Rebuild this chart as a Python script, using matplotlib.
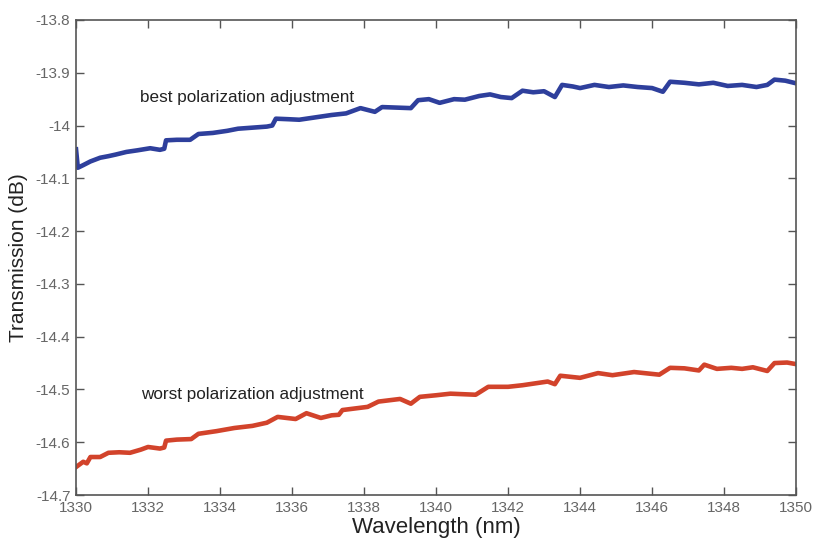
import matplotlib
matplotlib.use('Agg')
from matplotlib import pyplot as plt
import numpy as np

plt.rcParams['font.family'] = ['Liberation Sans', 'DejaVu Sans']

# best polarization adjustment (blue)
wl_best = [1330.00, 1330.05, 1330.2, 1330.4, 1330.67, 1330.9, 1331.1, 1331.4, 1331.7,
           1332.06, 1332.33, 1332.45, 1332.5, 1332.8, 1333.17, 1333.4, 1333.8, 1334.2,
           1334.5, 1334.9, 1335.3, 1335.45, 1335.55, 1335.9, 1336.2, 1336.6, 1337.1,
           1337.5, 1337.9, 1338.3, 1338.5, 1338.9, 1339.3, 1339.5, 1339.8, 1340.1,
           1340.5, 1340.8, 1341.2, 1341.5, 1341.8, 1342.1, 1342.4, 1342.7, 1343.0,
           1343.3, 1343.5, 1343.8, 1344.0, 1344.4, 1344.8, 1345.2, 1345.6, 1346.0,
           1346.3, 1346.5, 1346.9, 1347.3, 1347.7, 1348.1, 1348.5, 1348.9, 1349.2,
           1349.4, 1349.7, 1350.0]
db_best = [-14.045, -14.080, -14.075, -14.068, -14.061, -14.058, -14.055, -14.050, -14.047,
           -14.043, -14.046, -14.044, -14.028, -14.027, -14.027, -14.016, -14.014, -14.010,
           -14.006, -14.004, -14.002, -14.000, -13.987, -13.988, -13.989, -13.985, -13.980,
           -13.977, -13.967, -13.974, -13.965, -13.966, -13.967, -13.952, -13.950, -13.957,
           -13.950, -13.951, -13.944, -13.941, -13.946, -13.948, -13.934, -13.937, -13.935,
           -13.946, -13.923, -13.926, -13.929, -13.923, -13.927, -13.924, -13.927, -13.929,
           -13.936, -13.917, -13.919, -13.922, -13.919, -13.925, -13.923, -13.927, -13.923,
           -13.913, -13.915, -13.920]

# worst polarization adjustment (red)
wl_worst = [1330.0, 1330.2, 1330.3, 1330.4, 1330.67, 1330.9, 1331.2, 1331.5, 1331.8,
            1332.0, 1332.33, 1332.45, 1332.5, 1332.8, 1333.2, 1333.4, 1333.9, 1334.4,
            1334.9, 1335.3, 1335.6, 1336.1, 1336.4, 1336.8, 1337.1, 1337.3, 1337.4,
            1338.1, 1338.4, 1339.0, 1339.3, 1339.55, 1340.0, 1340.4, 1341.1, 1341.45,
            1342.0, 1342.4, 1342.7, 1343.1, 1343.3, 1343.45, 1344.0, 1344.5, 1344.9,
            1345.5, 1346.2, 1346.5, 1346.9, 1347.3, 1347.45, 1347.8, 1348.2, 1348.5,
            1348.8, 1349.2, 1349.4, 1349.75, 1350.0]
db_worst = [-14.647, -14.637, -14.640, -14.628, -14.628, -14.620, -14.619, -14.620, -14.614,
            -14.609, -14.612, -14.610, -14.597, -14.595, -14.594, -14.584, -14.579, -14.573,
            -14.569, -14.563, -14.552, -14.556, -14.545, -14.554, -14.549, -14.548, -14.539,
            -14.533, -14.523, -14.518, -14.527, -14.514, -14.511, -14.508, -14.510, -14.495,
            -14.495, -14.492, -14.489, -14.485, -14.490, -14.474, -14.478, -14.469, -14.473,
            -14.467, -14.472, -14.459, -14.460, -14.464, -14.453, -14.461, -14.459, -14.461,
            -14.458, -14.465, -14.450, -14.449, -14.452]

xticks = np.arange(1330, 1351, 2)
yticks = [-13.8, -13.9, -14, -14.1, -14.2, -14.3, -14.4, -14.5, -14.6, -14.7]
yticklabels = ['-13.8', '-13.9', '-14', '-14.1', '-14.2', '-14.3', '-14.4', '-14.5', '-14.6', '-14.7']

fig = plt.figure(figsize=(8.14, 5.4), dpi=100)
ax = fig.add_axes([0.0934, 0.0833, 0.8846, 0.8797])

ax.plot(wl_best, db_best, color='#2E3F9C', lw=3.3)
ax.plot(wl_worst, db_worst, color='#D2432B', lw=3.3)

ax.set_xlim(1330, 1350)
ax.set_ylim(-14.7, -13.8)
ax.set_xticks(xticks)
ax.set_yticks(yticks)
ax.set_yticklabels(yticklabels)
ax.tick_params(direction='in', top=True, right=True, length=6, width=1,
               colors='#555555', labelsize=11, labelcolor='#666666', pad=4)
for s in ax.spines.values():
    s.set_color('#555555')
    s.set_linewidth(1.2)

ax.set_xlabel('Wavelength (nm)', fontsize=16, color='#222222', labelpad=2)
ax.set_ylabel('Transmission (dB)', fontsize=15, color='#222222', labelpad=6)

ax.text(1331.78, -13.946, 'best polarization adjustment', fontsize=12.3, color='#222222', va='center')
ax.text(1331.8, -14.51, 'worst polarization adjustment', fontsize=12.3, color='#222222', va='center')

plt.savefig('out.png', dpi=100)
